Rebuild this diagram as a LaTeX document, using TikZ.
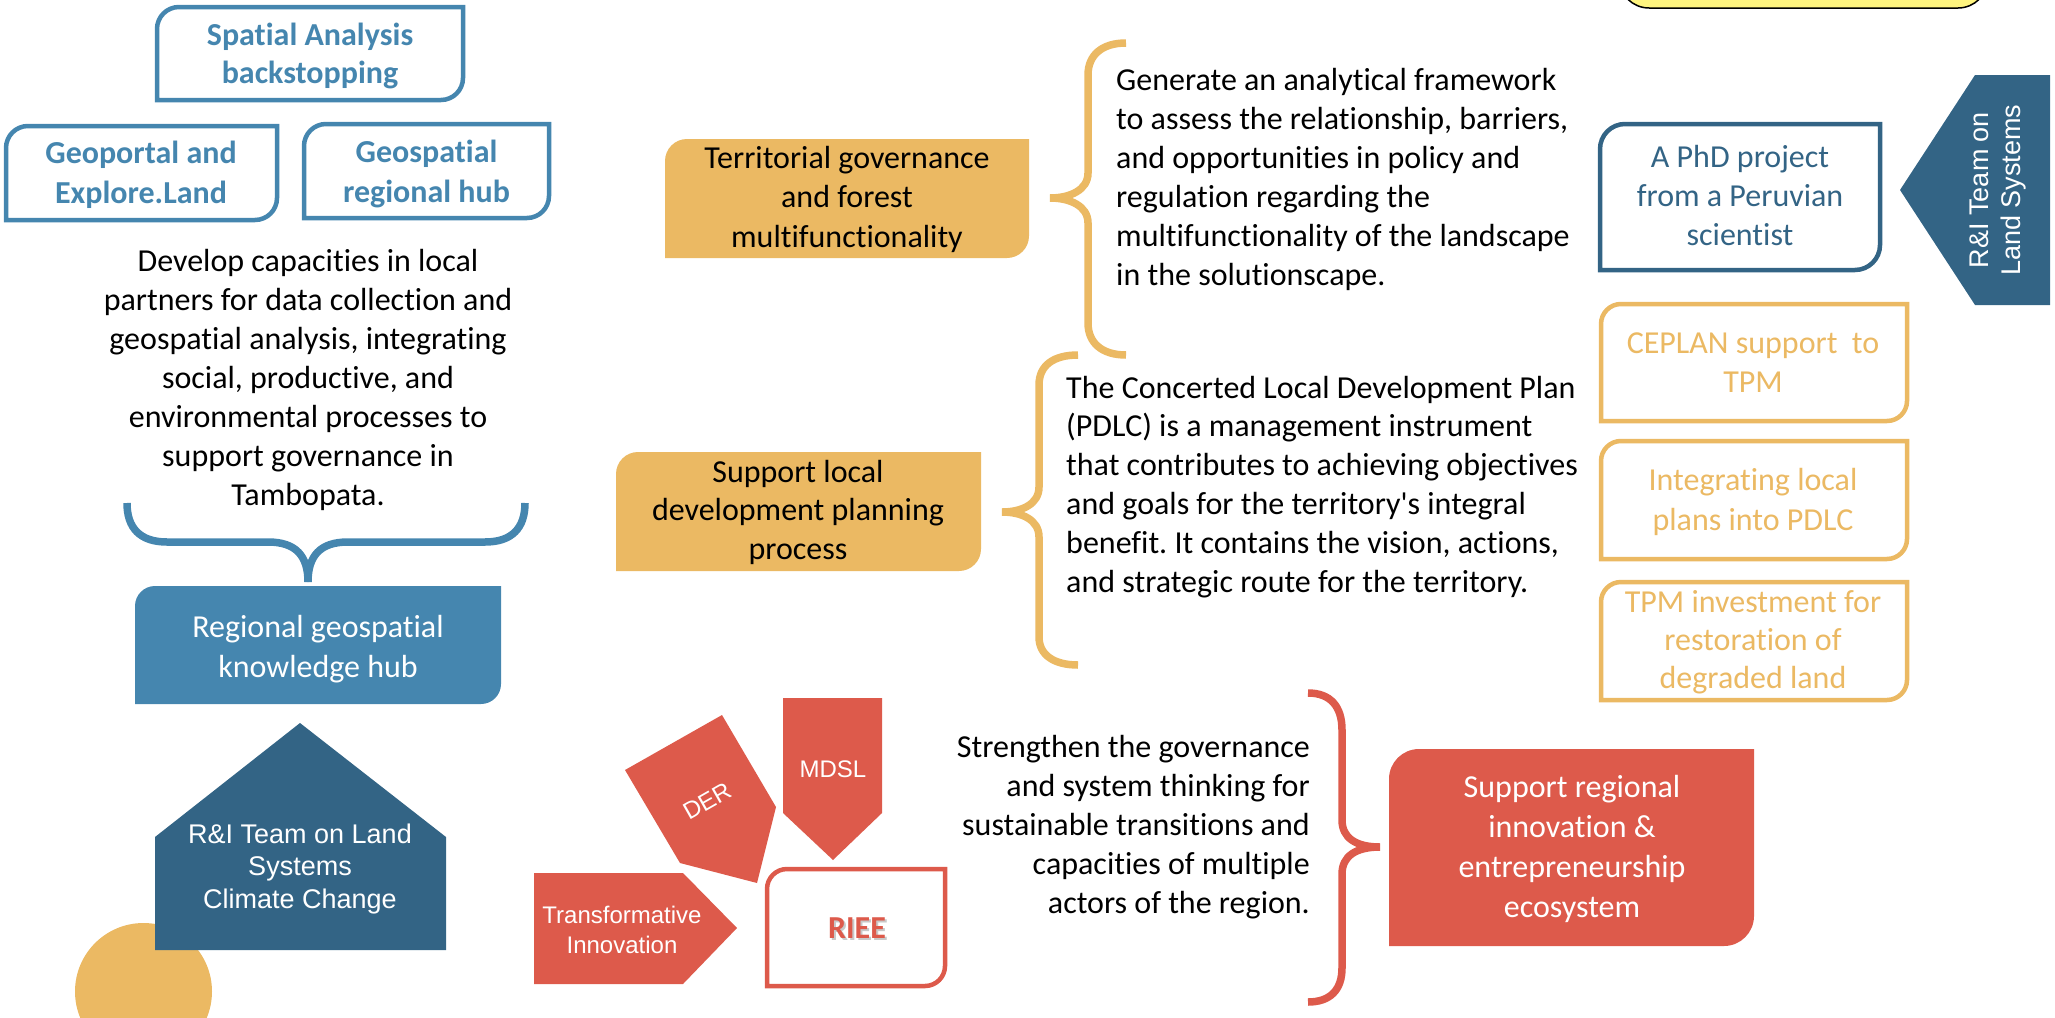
\documentclass[tikz,border=0pt]{standalone}
\usepackage{fontspec}
\setmainfont{Carlito}[Ligatures=NoCommon]
\newfontfamily\arialf{Liberation Sans}
\definecolor{cblue}{HTML}{4586AF}
\definecolor{cdark}{HTML}{336485}
\definecolor{corange}{HTML}{EBB963}
\definecolor{cred}{HTML}{DD5A4B}
\definecolor{cyellow}{HTML}{FFF57F}
% box with rounded top-left and bottom-right corners: style, x1, y1, x2, y2, radius
\newcommand{\rdbox}[6]{%
  \path[#1] (#2,#5) -- (#2,#3+#6) .. controls (#2,#3+0.448*#6) and (#2+0.448*#6,#3) .. (#2+#6,#3)
    -- (#4,#3) -- (#4,#5-#6) .. controls (#4,#5-0.448*#6) and (#4-0.448*#6,#5) .. (#4-#6,#5) -- cycle;}
\tikzset{
  fsz/.style 2 args={font={\frenchspacing\fontsize{#1}{#2}\selectfont}},
  bsz/.style 2 args={font={\frenchspacing\fontsize{#1}{#2}\selectfont\bfseries}},
  asz/.style 2 args={font={\arialf\fontsize{#1}{#2}\selectfont}},
  tx/.style={inner sep=0pt, align=center, anchor=base},
  outl/.style={draw=#1, line width=4.5pt, fill=white},
  filled/.style={fill=#1},
  brace/.style={draw=#1, line width=7.5pt},
}
\begin{document}
\begin{tikzpicture}[x=1pt,y=-1pt]
\useasboundingbox (0,0) rectangle (2055,1017);
\clip (0,0) rectangle (2055,1017);

% ---------- shapes ----------
\path[fill=cyellow, draw=black, line width=1.5pt, rounded corners=30pt] (1619,-60) rectangle (1988,8);

\rdbox{outl=cblue}{157}{7}{463}{100}{22}
\rdbox{outl=cblue}{6}{126}{277}{220}{22}
\rdbox{outl=cblue}{304}{124}{549}{218}{22}
\rdbox{filled=cblue}{135}{586}{501}{704}{20}

\fill[corange] (143.5,991.5) circle (68.5);
\fill[cdark] (155,837) -- (300,723) -- (446,837) -- (446,950) -- (155,950) -- cycle;

\rdbox{filled=corange}{665}{139}{1029}{258}{22}
\rdbox{filled=corange}{616}{452}{981}{571}{22}

\rdbox{outl=cdark}{1600}{124}{1880}{270}{25}
\fill[cdark] (1975,75) -- (2050,75) -- (2050,305) -- (1975,305) -- (1900,190) -- cycle;
\rdbox{outl=corange}{1601}{304}{1907}{421}{20}
\rdbox{outl=corange}{1601}{441}{1907}{559}{20}
\rdbox{outl=corange}{1601}{582}{1907}{700}{20}

\fill[cred] (783,698) -- (882,698) -- (882,813) -- (833,860) -- (783,813) -- cycle;
\fill[cred] (625,770) -- (722,715) -- (776,807) -- (757,883) -- (680,863) -- cycle;
\fill[cred] (534,873) -- (683,873) -- (737,928) -- (683,984) -- (534,984) -- cycle;
\rdbox{outl=cred}{767}{869}{945}{986}{20}
\rdbox{filled=cred}{1389}{749}{1754}{946}{30}

% ---------- braces ----------
\draw[brace=cblue] (127,503) .. controls (127,528) and (140,542) .. (167,542) -- (268,542) .. controls (296,542) and (308,556) .. (308,582);
\draw[brace=cblue] (525,503) .. controls (525,528) and (512,542) .. (485,542) -- (348,542) .. controls (320,542) and (308,556) .. (308,582);

\draw[brace=corange] (1126,43) .. controls (1102,43) and (1088,55) .. (1088,75) -- (1088,173) .. controls (1088,190) and (1070,198) .. (1050,198) .. controls (1070,198) and (1088,206) .. (1088,223) -- (1088,323) .. controls (1088,343) and (1102,355) .. (1126,355);

\draw[brace=corange] (1078,355) .. controls (1054,355) and (1039,365) .. (1039,385) -- (1039,487) .. controls (1039,504) and (1022,512) .. (1002,512) .. controls (1022,512) and (1039,520) .. (1039,537) -- (1039,637) .. controls (1039,655) and (1054,665) .. (1078,665);

\draw[brace=cred] (1308,693) .. controls (1330,693) and (1342,706) .. (1342,730) -- (1342,820) .. controls (1342,838) and (1356,847) .. (1380,847) .. controls (1356,847) and (1342,856) .. (1342,874) -- (1342,968) .. controls (1342,990) and (1330,1002) .. (1308,1002);

% ---------- texts (base anchor = baseline of last line) ----------
\node[tx, bsz={32}{38}, text=cblue] (spatial) at (310,83) {Spatial Analysis\\backstopping};
\node[tx, bsz={32}{40}, text=cblue] (geoportal) at (141,203) {Geoportal and\\Explore.Land};
\node[tx, bsz={32}{40}, text=cblue] (geospatial) at (426.5,202) {Geospatial\\regional hub};
\node[tx, fsz={32}{38.9}] (develop) at (308,505) {Develop capacities in local\\partners for data collection and\\geospatial analysis, integrating\\social, productive, and\\environmental processes to\\support governance in\\Tambopata.};
\node[tx, fsz={32}{40}, text=white] (hub) at (318,677) {Regional geospatial\\knowledge hub};
\node[tx, asz={27}{32.5}, text=white] (team1) at (300,908) {R\&I Team on Land\\Systems\\Climate Change};

\node[tx, fsz={32}{39.5}] (terr) at (847,247) {Territorial governance\\and forest\\multifunctionality};
\node[tx, fsz={32}{39}, align=left, anchor=base west] (generate) at (1116,285) {Generate an analytical framework\\to assess the relationship, barriers,\\and opportunities in policy and\\regulation regarding the\\multifunctionality of the landscape\\in the solutionscape.};
\node[tx, fsz={32}{38.5}] (local) at (798,559) {Support local\\development planning\\process};
\node[tx, fsz={32}{38.8}, align=left, anchor=base west] (pdlc) at (1066,592) {The Concerted Local Development Plan\\(PDLC) is a management instrument\\that contributes to achieving objectives\\and goals for the territory\textquotesingle s integral\\benefit. It contains the vision, actions,\\and strategic route for the territory.};

\node[tx, fsz={32}{39}, text=cdark] (phd) at (1740,245) {A PhD project\\from a Peruvian\\scientist};
\node[tx, asz={27}{32}, text=white, rotate=90] (team2) at (2020,190) {R\&I Team on\\Land Systems};
\node[tx, fsz={32}{39}, text=corange] (ceplan) at (1753,392) {CEPLAN support~ to\\TPM};
\node[tx, fsz={32}{40}, text=corange] (integr) at (1753,530) {Integrating local\\plans into PDLC};
\node[tx, fsz={32}{38}, text=corange] (tpm) at (1753,688) {TPM investment for\\restoration of\\degraded land};

\node[tx, asz={24}{30}, text=white] (mdsl) at (833,777) {MDSL};
\node[inner sep=0pt, asz={24}{30}, text=white, rotate=29.6] (der) at (707,801) {DER};
\node[tx, asz={24}{30}, text=white] (trans) at (622,953) {Transformative\\Innovation};
\node[tx, bsz={32}{38}, text=black!35, opacity=0.6] (rieeshadow) at (859,940) {RIEE};
\node[tx, bsz={32}{38}, text=cred] (riee) at (857,938) {RIEE};

\node[tx, fsz={32}{38.8}, align=right, anchor=base east] (strength) at (1310,913) {Strengthen the governance\\and system thinking for\\sustainable transitions and\\capacities of multiple\\actors of the region.};
\node[tx, fsz={32}{39.7}, text=white] (regional) at (1572,917) {Support regional\\innovation \&\\entrepreneurship\\ecosystem};
\end{tikzpicture}
\end{document}
